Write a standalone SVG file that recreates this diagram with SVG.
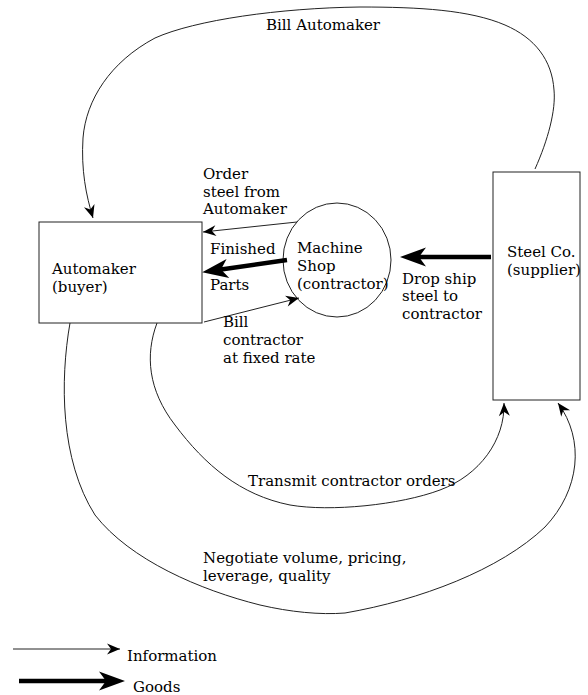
<svg xmlns="http://www.w3.org/2000/svg" width="588" height="695" viewBox="0 0 588 695">
<defs>
<style>
.node{fill:#fff;stroke:#222;stroke-width:1}
.info{fill:none;stroke:#222;stroke-width:1}
.goods{fill:none;stroke:#000;stroke-width:4.5}
text{font-family:"DejaVu Serif","Liberation Serif",serif;font-size:15px;fill:#000}
</style>
<marker id="ah" markerUnits="userSpaceOnUse" markerWidth="16" markerHeight="16" viewBox="-15 -8 16 16" refX="0" refY="0" orient="auto" overflow="visible">
<path d="M0,0 L-13,-5.5 L-9,0 L-13,5.5 z" fill="#000"/>
</marker>
<marker id="ahg" markerUnits="userSpaceOnUse" markerWidth="32" markerHeight="24" viewBox="-10 -12 32 24" refX="0" refY="0" orient="auto" overflow="visible">
<path d="M19,0 L-7,-9.5 L0,0 L-7,9.5 z" fill="#000"/>
</marker>
</defs>
<rect width="588" height="695" fill="#fff"/>

<g id="automaker">
<rect class="node" x="39" y="222" width="163" height="101"/>
<text x="52" y="274">Automaker</text>
<text x="52" y="292">(buyer)</text>
</g>

<g id="machine-shop">
<ellipse class="node" cx="337" cy="260" rx="54" ry="57"/>
<text x="297" y="253">Machine</text>
<text x="297" y="271">Shop</text>
<text x="297" y="289">(contractor)</text>
</g>

<g id="steel-co">
<rect class="node" x="493" y="172" width="87" height="228"/>
<text x="507" y="257">Steel Co.</text>
<text x="507" y="275">(supplier)</text>
</g>

<g id="connectors">
<path class="info" marker-end="url(#ah)" d="M535,169 C548,140 556,110 554,90 C552,60 535,38 505,25 C470,10 420,7 360,7 C280,8 195,20 155,38 C110,62 86,100 83,138 C81,170 86,195 93,218"/>
<path class="info" marker-end="url(#ah)" d="M297,222 L203,232"/>
<path class="goods" marker-end="url(#ahg)" d="M287,260 L221,269.5"/>
<path class="info" marker-end="url(#ah)" d="M204,322 L299,298"/>
<path class="goods" marker-end="url(#ahg)" d="M491,257 L419,257"/>
<path class="info" marker-end="url(#ah)" d="M157,323 C145,355 148,390 175,425 C205,465 240,495 290,505 C330,512 400,505 440,490 C480,475 505,440 504,403"/>
<path class="info" marker-end="url(#ah)" d="M70,323 C60,380 60,460 95,515 C130,560 200,590 260,605 C290,612 320,615 345,613 C420,600 500,570 545,527 C580,490 585,440 558,403"/>
</g>

<g id="connector-labels">
<text x="266" y="30">Bill Automaker</text>
<text x="203" y="179">Order</text>
<text x="203" y="197">steel from</text>
<text x="203" y="214">Automaker</text>
<text x="210" y="254">Finished</text>
<text x="210" y="290">Parts</text>
<text x="223" y="327">Bill</text>
<text x="223" y="345">contractor</text>
<text x="223" y="363">at fixed rate</text>
<text x="402" y="284">Drop ship</text>
<text x="402" y="301">steel to</text>
<text x="402" y="319">contractor</text>
<text x="248" y="486">Transmit contractor orders</text>
<text x="203" y="563">Negotiate volume, pricing,</text>
<text x="203" y="581">leverage, quality</text>
</g>

<g id="legend">
<path class="info" marker-end="url(#ah)" d="M13,649 L120,649"/>
<text x="127" y="661">Information</text>
<path class="goods" marker-end="url(#ahg)" d="M19,681 L106,681"/>
<text x="133" y="692">Goods</text>
</g>
</svg>
